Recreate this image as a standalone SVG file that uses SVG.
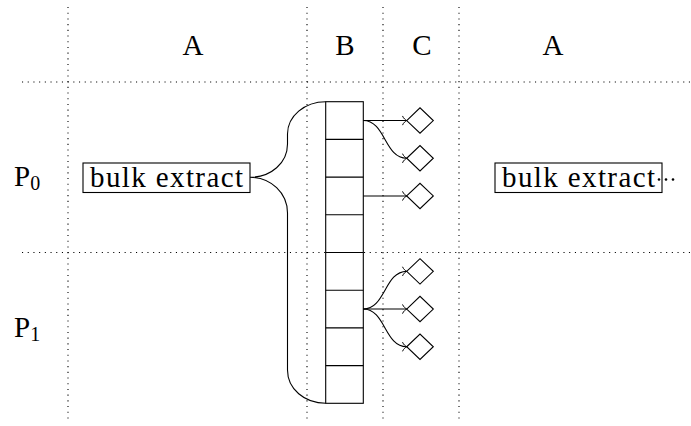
<svg xmlns="http://www.w3.org/2000/svg" width="691" height="426" viewBox="0 0 691 426">
<defs>
<style>
.grid{stroke:#000;stroke-width:1.1;stroke-dasharray:1.1 4.6;fill:none}
.ln{stroke:#000;stroke-width:1.1;fill:none}
.box{stroke:#000;stroke-width:1.1;fill:#fff}
.t{font-family:'Liberation Serif','Times New Roman',Times,'DejaVu Serif','Noto Serif',serif;font-size:29px;fill:#000}
.sub{font-size:20px}
.c{text-anchor:middle}
</style>
<marker id="arr" markerUnits="userSpaceOnUse" markerWidth="10" markerHeight="12" viewBox="-6 -6 8 12" refX="0" refY="0" orient="auto">
<path d="M-4.2,-4.6 C-3.2,-2 -1,-0.6 0,0 C-1,0.6 -3.2,2 -4.2,4.6" fill="none" stroke="#000" stroke-width="1"/>
</marker>
</defs>
<rect width="691" height="426" fill="#fff"/>
<g id="grid">
<line class="grid" x1="68" y1="7" x2="68" y2="421"/>
<line class="grid" x1="307" y1="7" x2="307" y2="421"/>
<line class="grid" x1="383" y1="7" x2="383" y2="421"/>
<line class="grid" x1="459" y1="7" x2="459" y2="421"/>
<line class="grid" x1="22" y1="82" x2="691" y2="82"/>
<line class="grid" x1="22" y1="252.5" x2="691" y2="252.5"/>
</g>
<g id="headers">
<text class="t c" x="193" y="55">A</text>
<text class="t c" x="345" y="55">B</text>
<text class="t c" x="422" y="55">C</text>
<text class="t c" x="553" y="55">A</text>
<text class="t" x="14" y="185.5">P<tspan class="sub" dy="4">0</tspan></text>
<text class="t" x="14" y="336.5">P<tspan class="sub" dy="4">1</tspan></text>
</g>
<g id="node-extract1">
<rect class="box" x="83" y="163" width="167" height="29.5"/>
<text class="t" x="90" y="186.5" textLength="153">bulk extract</text>
</g>
<g id="node-extract2">
<rect class="box" x="495" y="163" width="167" height="29.5"/>
<text class="t" x="502" y="186.5" textLength="153">bulk extract</text>
<circle cx="659" cy="179.5" r="1.3"/>
<circle cx="666" cy="179.5" r="1.3"/>
<circle cx="673" cy="179.5" r="1.3"/>
</g>
<g id="node-array">
<rect class="ln" x="325.7" y="101.7" width="37.6" height="301.6"/>
<path class="ln" d="M325.7,139.4H363.3M325.7,177.1H363.3M325.7,214.8H363.3M325.7,252.5H363.3M325.7,290.2H363.3M325.7,327.9H363.3M325.7,365.6H363.3"/>
</g>
<g id="nodes-diamonds">
<path class="ln" d="M406.7,120.55L420,107.85L433.3,120.55L420,133.25Z"/>
<path class="ln" d="M406.7,158.25L420,145.55L433.3,158.25L420,170.95Z"/>
<path class="ln" d="M406.7,195.95L420,183.25L433.3,195.95L420,208.65Z"/>
<path class="ln" d="M406.7,271.35L420,258.65L433.3,271.35L420,284.05Z"/>
<path class="ln" d="M406.7,309.05L420,296.35L433.3,309.05L420,321.75Z"/>
<path class="ln" d="M406.7,346.75L420,334.05L433.3,346.75L420,359.45Z"/>
</g>
<g id="connectors">
<path class="ln" d="M325.7,101.7 C304.6,101.7 287.5,116 287.5,134 L287.5,144 C287.5,163 271,177.3 250,177.3 C271,177.3 287.5,193 287.5,213 L287.5,370 C287.5,389 304.6,403.3 325.7,403.3"/>
<path class="ln" marker-end="url(#arr)" d="M363.3,120.55H406.7"/>
<path class="ln" marker-end="url(#arr)" d="M363.3,120.55C385.5,120.55 384.5,158.25 406.7,158.25"/>
<path class="ln" marker-end="url(#arr)" d="M363.3,195.95H406.7"/>
<path class="ln" marker-end="url(#arr)" d="M363.3,309.05C385.5,309.05 384.5,271.35 406.7,271.35"/>
<path class="ln" marker-end="url(#arr)" d="M363.3,309.05H406.7"/>
<path class="ln" marker-end="url(#arr)" d="M363.3,309.05C385.5,309.05 384.5,346.75 406.7,346.75"/>
</g>
</svg>
